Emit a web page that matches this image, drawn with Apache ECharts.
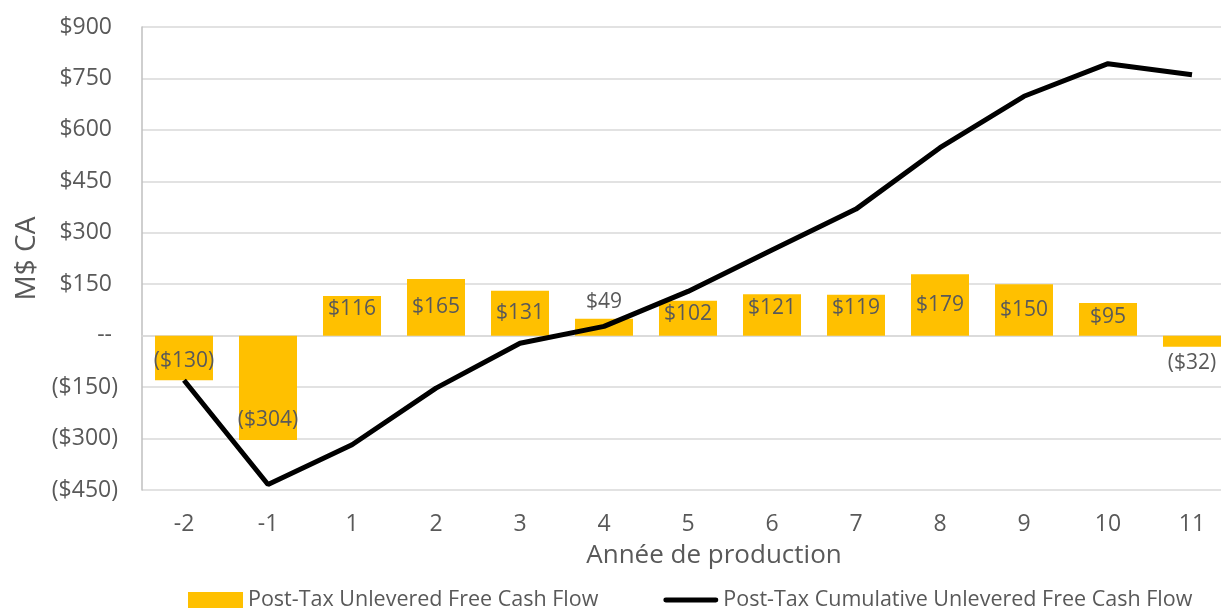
<!DOCTYPE html>
<html>
<head>
<meta charset="utf-8">
<script src="https://cdn.jsdelivr.net/npm/echarts@6/dist/echarts.min.js"></script>
<style>
  html, body { margin: 0; padding: 0; background: #fff; }
  #chart { width: 1221px; height: 608px; }
</style>
</head>
<body>
<div id="chart"></div>
<script>
const years = ['-2', '-1', '1', '2', '3', '4', '5', '6', '7', '8', '9', '10', '11'];
const freeCashFlow = [-130, -304, 116, 165, 131, 49, 102, 121, 119, 179, 150, 95, -32];
const cumulativeCashFlow = [-130, -434, -318, -153, -22, 27, 129, 250, 369, 548, 698, 793, 761];

const barName = 'Post-Tax Unlevered Free Cash Flow';
const lineName = 'Post-Tax Cumulative Unlevered Free Cash Flow';
const textColor = '#595959';
const fontFamily = "'Open Sans', sans-serif";

function money(value) {
    if (value === 0) {
        return '--';
    }
    return value < 0 ? '($' + Math.abs(value) + ')' : '$' + value;
}

// accounting style: positives leave room for the closing bracket
function tickMoney(value) {
    return value < 0 ? money(value) : money(value) + ' ';
}

// roughly where Excel put each data label
function barLabel(value) {
    if (Math.abs(value) < 60) {
        return {position: value < 0 ? 'bottom' : 'top', distance: 6};
    }
    if (value < 0) {
        return {position: 'insideBottom', distance: 9};
    }
    if (value < 125) {
        return {position: 'insideTop', distance: 3};
    }
    return {position: 'inside'};
}

const chart = echarts.init(document.getElementById('chart'));

const option = {
    animation: false,
    textStyle: {
        fontFamily: fontFamily
    },
    grid: {
        left: 142,
        top: 27,
        width: 1092,
        height: 463,
        containLabel: false,
        outerBoundsMode: 'none'
    },
    legend: {
        left: 188,
        top: 589,
        padding: 0,
        itemWidth: 55,
        itemHeight: 16,
        itemGap: 65,
        textStyle: {
            color: textColor,
            fontSize: 21.5,
            fontFamily: fontFamily
        },
        data: [
            {name: barName, icon: 'rect'},
            {name: lineName, icon: 'path://M2,0 H53 A2.5,2.5 0 0 1 53,5 H2 A2.5,2.5 0 0 1 2,0 Z'}
        ]
    },
    xAxis: {
        type: 'category',
        data: years,
        name: 'Année de production',
        nameLocation: 'middle',
        nameGap: 53,
        nameTextStyle: {
            color: textColor,
            fontSize: 26,
            fontFamily: fontFamily,
            padding: [0, 0, 0, 52]
        },
        axisLine: {
            onZero: true,
            lineStyle: {
                color: '#D9D9D9',
                width: 1.5
            }
        },
        axisTick: {
            show: false
        },
        axisLabel: {
            color: textColor,
            fontSize: 23,
            margin: 23
        }
    },
    yAxis: {
        type: 'value',
        min: -450,
        max: 900,
        interval: 150,
        name: 'M$ CA',
        nameLocation: 'middle',
        nameGap: 101,
        nameTextStyle: {
            color: textColor,
            fontSize: 28,
            fontFamily: fontFamily
        },
        axisLine: {
            show: true,
            lineStyle: {
                color: '#BFBFBF',
                width: 1.5
            }
        },
        axisTick: {
            show: false
        },
        splitLine: {
            lineStyle: {
                color: '#D9D9D9',
                width: 1.5
            }
        },
        axisLabel: {
            color: textColor,
            fontSize: 23,
            margin: 24,
            formatter: tickMoney
        }
    },
    series: [
        {
            name: barName,
            type: 'bar',
            barWidth: 58,
            itemStyle: {
                color: '#FFC000'
            },
            label: {
                show: true,
                color: textColor,
                fontSize: 21,
                fontFamily: fontFamily,
                formatter: function (obj) {
                    return money(obj.value);
                }
            },
            data: freeCashFlow.map(function (v) {
                return {value: v, label: barLabel(v)};
            })
        },
        {
            name: lineName,
            type: 'line',
            symbol: 'none',
            z: 5,
            lineStyle: {
                color: '#000000',
                width: 5
            },
            itemStyle: {
                color: '#000000'
            },
            data: cumulativeCashFlow
        }
    ]
};
chart.setOption(option);
</script>
</body>
</html>
